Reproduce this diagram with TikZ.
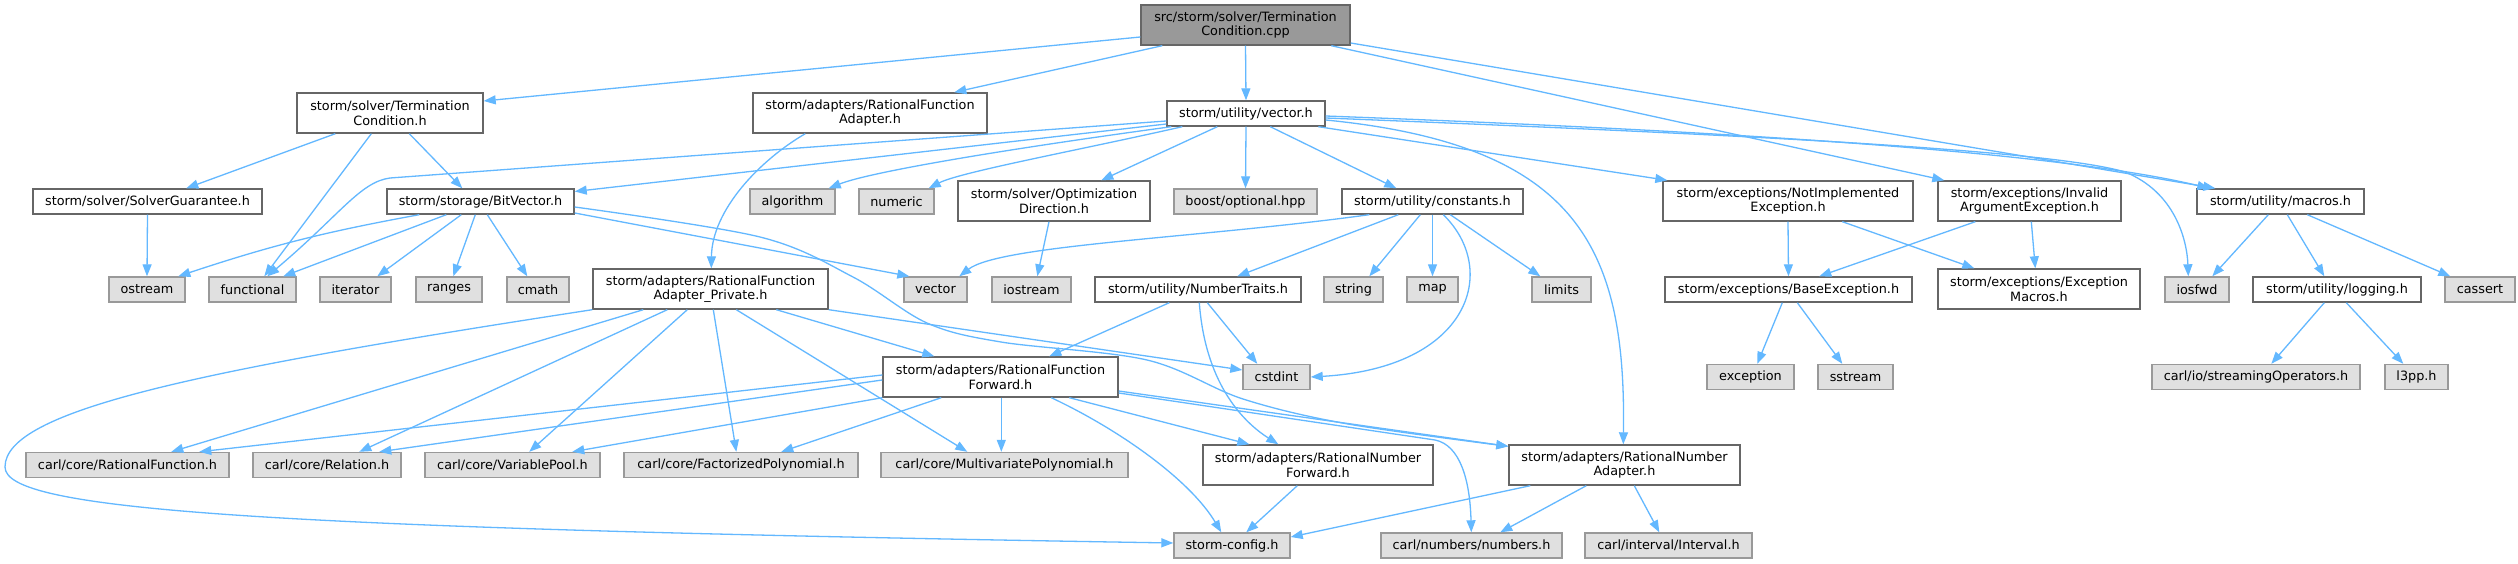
\documentclass[tikz,border=0pt]{standalone}
\usepackage{fontspec}
\setmainfont{DejaVu Sans}
\usetikzlibrary{arrows.meta}
\definecolor{edgec}{HTML}{63B8FF}
\definecolor{boxb}{HTML}{666666}
\definecolor{greyb}{HTML}{999999}
\definecolor{greyf}{HTML}{E0E0E0}
\definecolor{rootf}{HTML}{999999}
\newcommand{\dvf}{\fontsize{12.8}{14.6}\selectfont}
\tikzset{
  basebox/.style={inner sep=0pt, align=center, font=\dvf, line width=1.4pt, minimum height=25},
  wbox/.style={basebox, draw=boxb, fill=white},
  gbox/.style={basebox, draw=greyb, fill=greyf},
  rootbox/.style={basebox, draw=boxb, fill=rootf},
  tall/.style={minimum height=40},
  edge/.style={draw=edgec, line width=1.3pt, -{Triangle[length=12pt,width=9pt]}},
}
\begin{document}
\begin{tikzpicture}[x=1pt,y=-1pt]
\useasboundingbox (0,0) rectangle (2518,564);
\fill[white] (0,0) rectangle (2518,564);
% row 0/1
\node[rootbox,tall,minimum width=209] (main) at (1245.5,25) {src/storm/solver/Termination\\Condition.cpp};
\node[wbox,tall,minimum width=186] (tch) at (390,113) {storm/solver/Termination\\Condition.h};
\node[wbox,tall,minimum width=234] (rfa) at (870,113) {storm/adapters/RationalFunction\\Adapter.h};
\node[wbox,minimum width=158] (vec) at (1246,113.5) {storm/utility/vector.h};
% row 2
\node[wbox,minimum width=229] (sg) at (147.5,201.5) {storm/solver/SolverGuarantee.h};
\node[wbox,minimum width=187] (bv) at (480.5,201.5) {storm/storage/BitVector.h};
\node[gbox,minimum width=85] (alg) at (792.5,201.5) {algorithm};
\node[gbox,minimum width=75] (numeric) at (896.5,201.5) {numeric};
\node[wbox,tall,minimum width=192] (opt) at (1054,201) {storm/solver/Optimization\\Direction.h};
\node[gbox,minimum width=143] (boost) at (1245.5,201.5) {boost/optional.hpp};
\node[wbox,minimum width=181] (const) at (1432.5,201.5) {storm/utility/constants.h};
\node[wbox,tall,minimum width=250] (nie) at (1788,201) {storm/exceptions/NotImplemented\\Exception.h};
\node[wbox,tall,minimum width=183] (iae) at (2029.5,201) {storm/exceptions/Invalid\\ArgumentException.h};
\node[wbox,minimum width=167] (macros) at (2280.5,201.5) {storm/utility/macros.h};
% row 3
\node[gbox,minimum width=76] (ostream) at (147,289.5) {ostream};
\node[gbox,minimum width=87] (functional) at (252.5,289.5) {functional};
\node[gbox,minimum width=71] (iterator) at (355.5,289.5) {iterator};
\node[gbox,minimum width=66] (ranges) at (449,289.5) {ranges};
\node[gbox,minimum width=62] (cmath) at (538,289.5) {cmath};
\node[wbox,tall,minimum width=235] (rfap) at (710.5,289) {storm/adapters/RationalFunction\\Adapter\_Private.h};
\node[gbox,minimum width=63] (vector) at (935.5,289.5) {vector};
\node[gbox,minimum width=79] (iostream) at (1031.5,289.5) {iostream};
\node[wbox,minimum width=206] (nt) at (1198,289.5) {storm/utility/NumberTraits.h};
\node[gbox,minimum width=59] (string) at (1353.5,289.5) {string};
\node[gbox,minimum width=51] (map) at (1432.5,289.5) {map};
\node[gbox,minimum width=59] (limits) at (1561.5,289.5) {limits};
\node[wbox,minimum width=247] (be) at (1788.5,289.5) {storm/exceptions/BaseException.h};
\node[wbox,tall,minimum width=202] (em) at (2039,289) {storm/exceptions/Exception\\Macros.h};
\node[gbox,minimum width=64] (iosfwd) at (2197,289.5) {iosfwd};
\node[wbox,minimum width=168] (logging) at (2337,289.5) {storm/utility/logging.h};
\node[gbox,minimum width=70] (cassert) at (2480,289.5) {cassert};
% row 4
\node[wbox,tall,minimum width=235] (rff) at (1000.5,377) {storm/adapters/RationalFunction\\Forward.h};
\node[gbox,minimum width=67] (cstdint) at (1276.5,377) {cstdint};
\node[gbox,minimum width=87] (exception) at (1750.5,377) {exception};
\node[gbox,minimum width=75] (sstream) at (1855.5,377) {sstream};
\node[gbox,minimum width=208] (stream) at (2256,377) {carl/io/streamingOperators.h};
\node[gbox,minimum width=63] (l3pp) at (2416.5,377) {l3pp.h};
% row 5
\node[gbox,minimum width=203] (crf) at (127.5,465) {carl/core/RationalFunction.h};
\node[gbox,minimum width=148] (crel) at (327,465) {carl/core/Relation.h};
\node[gbox,minimum width=175] (cvp) at (512.5,465) {carl/core/VariablePool.h};
\node[gbox,minimum width=234] (cfp) at (741,465) {carl/core/FactorizedPolynomial.h};
\node[gbox,minimum width=247] (cmp) at (1004.5,465) {carl/core/MultivariatePolynomial.h};
\node[wbox,tall,minimum width=230] (rnf) at (1318,465) {storm/adapters/RationalNumber\\Forward.h};
\node[wbox,tall,minimum width=231] (rna) at (1624.5,465) {storm/adapters/RationalNumber\\Adapter.h};
% row 6
\node[gbox,minimum width=116] (cfg) at (1232,545.5) {storm-config.h};
\node[gbox,minimum width=181] (num) at (1471.5,545.5) {carl/numbers/numbers.h};
\node[gbox,minimum width=167] (ival) at (1668.5,545.5) {carl/interval/Interval.h};

% edges from main
\draw[edge] ([yshift=-12pt]main.west) -- ([yshift=12pt]tch.east);
\draw[edge] ([xshift=22pt]main.south west) -- ([xshift=202pt]rfa.north west);
\draw[edge] (main.south) -- (vec.north);
\draw[edge] ([xshift=191pt]main.south west) -- ([xshift=7pt]iae.north west);
\draw[edge] ([yshift=-18pt]main.east) -- ([xshift=19pt]macros.north west);
% TerminationCondition.h
\draw[edge] ([xshift=39pt]tch.south west) -- ([xshift=154pt]sg.north west);
\draw[edge] ([xshift=75pt]tch.south west) -- ([xshift=56pt]functional.north west);
\draw[edge] ([xshift=113pt]tch.south west) -- ([xshift=76pt]bv.north west);
\draw[edge] (sg.south) -- (ostream.north);
% BitVector.h
\draw[edge] ([xshift=33pt]bv.south west) to[bend right=4] ([xshift=70pt]ostream.north west);
\draw[edge] ([xshift=60pt]bv.south west) -- ([xshift=75pt]functional.north west);
\draw[edge] ([xshift=75pt]bv.south west) -- ([xshift=58pt]iterator.north west);
\draw[edge] ([xshift=89pt]bv.south west) -- ([xshift=38pt]ranges.north west);
\draw[edge] ([xshift=101pt]bv.south west) -- ([xshift=21pt]cmath.north west);
\draw[edge] ([yshift=-11.5pt]bv.east) -- ([xshift=6pt]vector.north west);
\draw[edge] plot[smooth,tension=0.55] coordinates {([yshift=-5.5pt]bv.east) (760,237) (853,277) (927,323) (1001,342) (1147,360) (1243,399) (1348,424) ([yshift=-2pt]rna.north west)};
% vector.h
\draw[edge] ([yshift=-7.5pt]vec.west) -- (390,178) .. controls (360,182) and (340,215) .. ([xshift=59pt]functional.north west);
\draw[edge] ([yshift=-10.5pt]vec.west) -- ([yshift=10pt]bv.east);
\draw[edge] ([xshift=5pt]vec.south west) .. controls (1000,150) and (870,172) .. ([xshift=-7pt]alg.north east);
\draw[edge] ([xshift=16pt]vec.south west) .. controls (1080,150) and (960,172) .. ([xshift=-6pt]numeric.north east);
\draw[edge] ([xshift=51pt]vec.south west) -- ([xshift=144pt]opt.north west);
\draw[edge] (vec.south) -- (boost.north);
\draw[edge] ([xshift=104pt]vec.south west) -- ([xshift=55pt]const.north west);
\draw[edge] ([xshift=152pt]vec.south west) -- ([xshift=5pt]nie.north west);
\draw[edge] ([yshift=-2.5pt]vec.east) .. controls (1700,130) and (2050,150) .. ([xshift=13pt]macros.north west);
\draw[edge] ([yshift=-4.5pt]vec.east) .. controls (1750,135) and (2050,150) .. (2125,172) .. controls (2175,192) and (2187,240) .. ([xshift=24pt]iosfwd.north west);
\draw[edge] ([yshift=-6.5pt]vec.east) .. controls (1580,145) and (1626,250) .. ([xshift=115pt]rna.north west);
% constants.h
\draw[edge] ([xshift=28pt]const.south west) .. controls (1200,238) and (1000,245) .. ([xshift=56pt]vector.north west);
\draw[edge] ([xshift=57pt]const.south west) -- ([xshift=143pt]nt.north west);
\draw[edge] ([xshift=79pt]const.south west) -- ([xshift=46pt]string.north west);
\draw[edge] (const.south) -- (map.north);
\draw[edge] ([xshift=109pt]const.south west) -- ([xshift=9pt]limits.north west);
\draw[edge] ([xshift=102pt]const.south west) .. controls (1500,270) and (1470,368) .. (cstdint.east);
% others row 2
\draw[edge] ([xshift=-5pt]opt.south) -- ([xshift=46pt]iostream.north west);
\draw[edge] (nie.south) -- (be.north);
\draw[edge] ([xshift=180pt]nie.south west) -- ([xshift=37pt]em.north west);
\draw[edge] ([xshift=38pt]iae.south west) -- ([xshift=155pt]be.north west);
\draw[edge] ([xshift=94pt]iae.south west) -- ([xshift=98pt]em.north west);
\draw[edge] ([xshift=118pt]be.south west) -- ([xshift=51pt]exception.north west);
\draw[edge] ([xshift=133pt]be.south west) -- ([xshift=25pt]sstream.north west);
\draw[edge] ([xshift=72pt]macros.south west) -- ([xshift=48pt]iosfwd.north west);
\draw[edge] ([xshift=91pt]macros.south west) -- ([xshift=72pt]logging.north west);
\draw[edge] ([xshift=111pt]macros.south west) -- ([xshift=6pt]cassert.north west);
\draw[edge] ([xshift=72pt]logging.south west) -- ([xshift=120pt]stream.north west);
\draw[edge] ([xshift=94pt]logging.south west) -- ([xshift=19pt]l3pp.north west);
% NumberTraits.h
\draw[edge] ([xshift=75pt]nt.south west) -- ([xshift=167pt]rff.north west);
\draw[edge] ([xshift=113pt]nt.south west) -- ([xshift=15pt]cstdint.north west);
\draw[edge] ([xshift=105pt]nt.south west) .. controls (1205,380) and (1240,420) .. ([xshift=76pt]rnf.north west);
% RationalFunctionAdapter.h
\draw[edge] ([xshift=53pt]rfa.south west) .. controls (760,160) and (712,210) .. ([xshift=119pt]rfap.north west);
% RationalFunctionAdapter_Private.h
\draw[edge] (rfap.south west) .. controls (200,370) and (5,410) .. (5,467) .. controls (5,510) and (250,528) .. ([yshift=2.5pt]cfg.west);
\draw[edge] ([xshift=51pt]rfap.south west) -- ([xshift=146pt]crf.north west);
\draw[edge] ([xshift=75pt]rfap.south west) -- ([xshift=107pt]crel.north west);
\draw[edge] ([xshift=95pt]rfap.south west) -- ([xshift=105pt]cvp.north west);
\draw[edge] ([xshift=121pt]rfap.south west) -- ([xshift=113pt]cfp.north west);
\draw[edge] ([xshift=144pt]rfap.south west) -- ([xshift=87pt]cmp.north west);
\draw[edge] ([xshift=184pt]rfap.south west) -- ([xshift=52pt]rff.north west);
\draw[edge] (rfap.south east) -- ([yshift=7pt]cstdint.west);
% RationalFunctionForward.h
\draw[edge] ([yshift=2pt]rff.west) -- ([xshift=174pt]crf.north west);
\draw[edge] ([yshift=-3pt]rff.west) -- ([xshift=127pt]crel.north west);
\draw[edge] (rff.south west) -- ([xshift=148pt]cvp.north west);
\draw[edge] ([xshift=59pt]rff.south west) -- ([xshift=158pt]cfp.north west);
\draw[edge] ([xshift=119pt]rff.south west) -- ([xshift=121pt]cmp.north west);
\draw[edge] ([xshift=169pt]rff.south west) .. controls (1120,430) and (1190,480) .. ([xshift=48pt]cfg.north west);
\draw[edge] ([xshift=187pt]rff.south west) -- ([xshift=47pt]rnf.north west);
\draw[edge] ([yshift=-16pt]rff.east) -- (1435,440) .. controls (1460,445) and (1470,480) .. ([xshift=91pt]num.north west);
\draw[edge] ([yshift=-14pt]rff.east) -- ([yshift=-2pt]rna.north west);
% RationalNumber*
\draw[edge] ([xshift=95pt]rnf.south west) -- ([xshift=73pt]cfg.north west);
\draw[edge] ([xshift=22pt]rna.south west) -- ([yshift=8.5pt]cfg.east);
\draw[edge] ([xshift=78pt]rna.south west) -- ([xshift=120pt]num.north west);
\draw[edge] ([xshift=126pt]rna.south west) -- ([xshift=75pt]ival.north west);
\end{tikzpicture}
\end{document}
